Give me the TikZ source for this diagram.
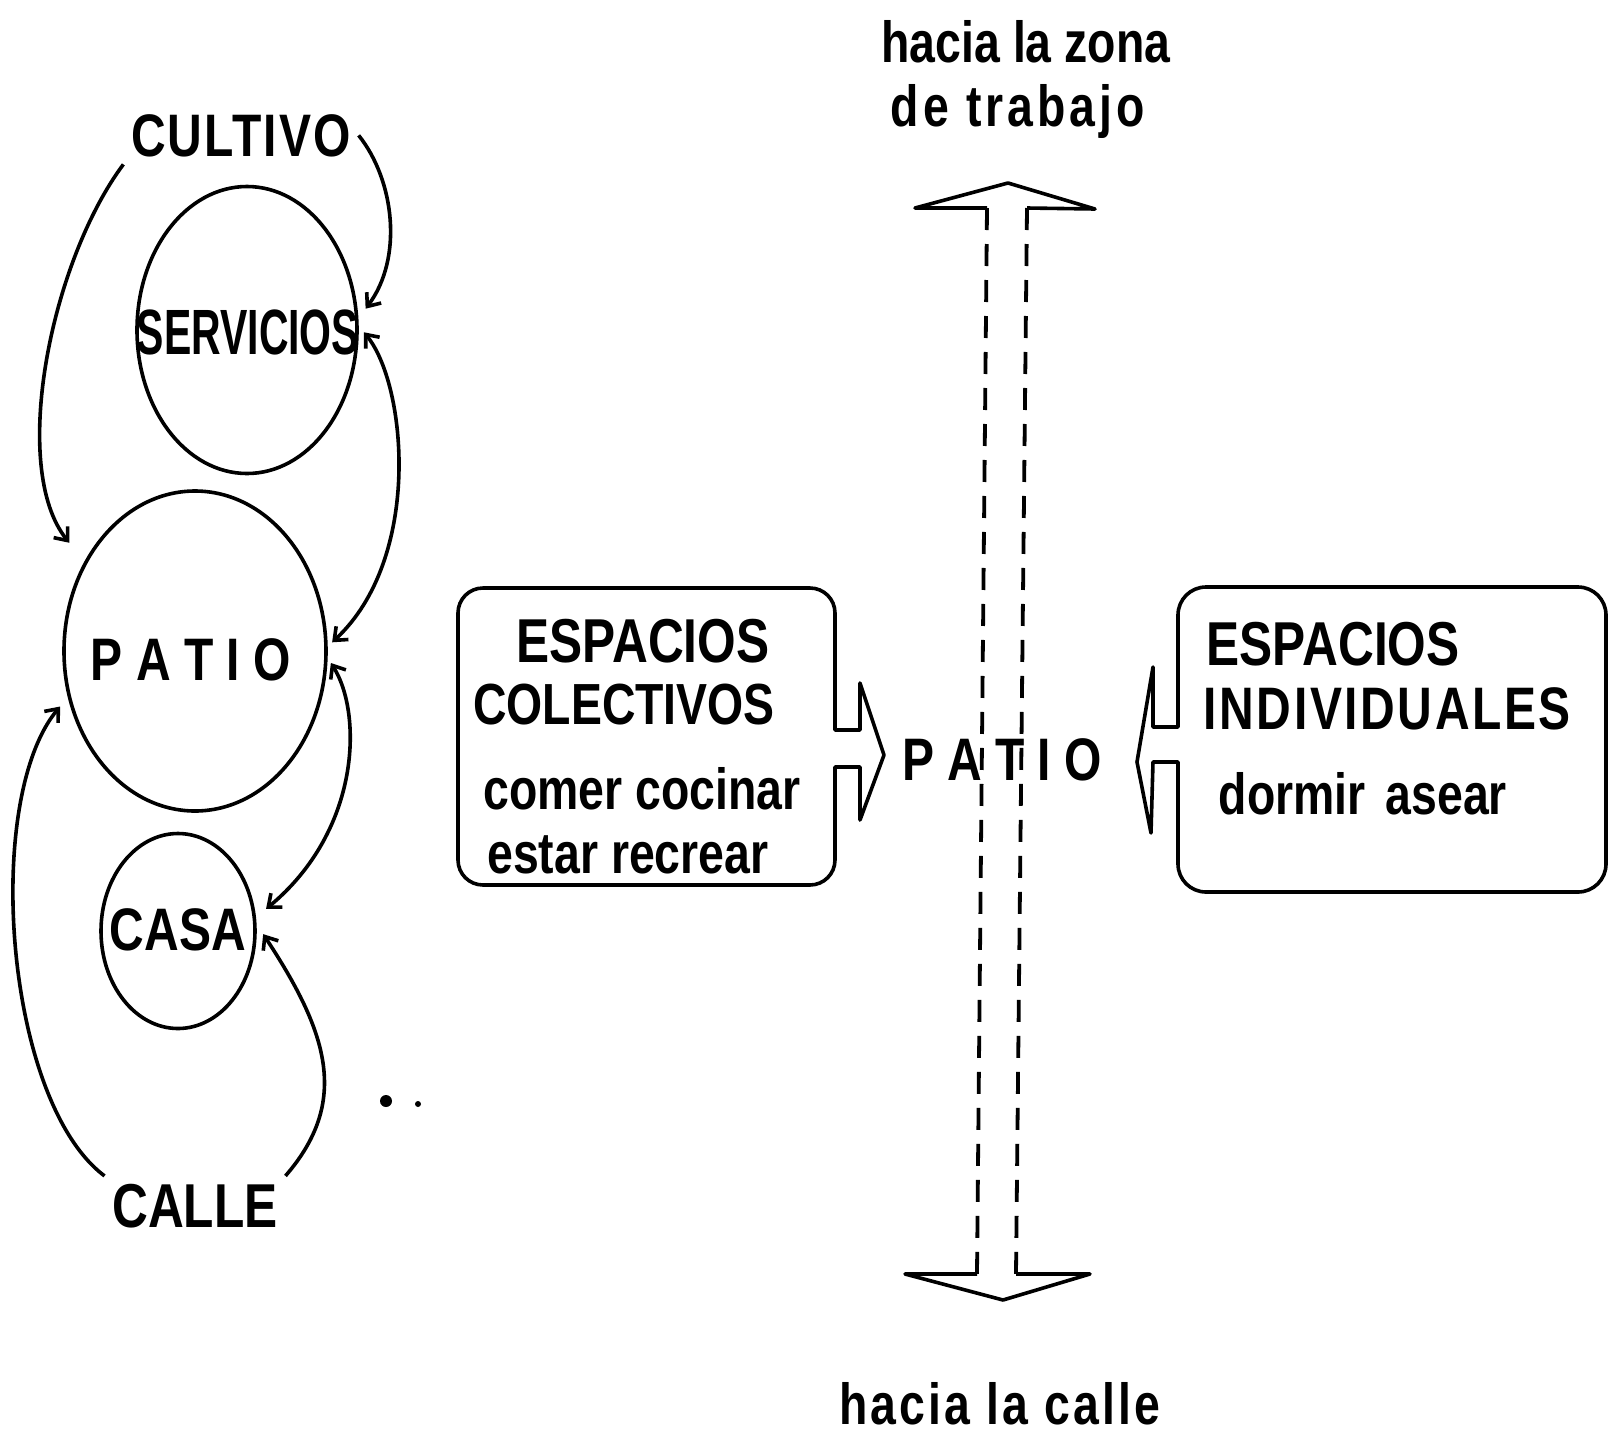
\documentclass[tikz,border=0pt]{standalone}
\usepackage{fontspec}
\setmainfont{Liberation Sans}[FakeStretch=0.8]
\newfontfamily\narrowfont{Liberation Sans}[FakeStretch=0.64]
\usetikzlibrary{shapes.geometric, arrows.meta}

\begin{document}
\begin{tikzpicture}[
        x=1pt, y=-1pt,
        line width=3.6pt,
        >={Straight Barb[length=11pt, width=18pt]},
        capwords/.style={font=\bfseries\fontsize{60}{60}\selectfont, inner sep=6pt, anchor=base},
        words/.style={font=\bfseries\fontsize{58}{58}\selectfont, inner sep=6pt, anchor=base},
        place/.style={ellipse, draw, inner sep=0pt},
        link/.style={->},
        twoway/.style={<->},
        outline/.style={draw, line join=round},
        shaft/.style={line width=3.8pt, dash pattern=on 22pt off 14pt}
    ]
    \useasboundingbox (0,0) rectangle (1610,1433);

    % Nodes
    \node (cultivo) [capwords] at (241,156) {\addfontfeature{LetterSpace=3.5}CULTIVO};
    \node (servicios) [place, minimum width=220pt, minimum height=287pt] at (247,330) {};
    \node (servicios-txt) [capwords, font=\narrowfont\bfseries\fontsize{64}{64}\selectfont] at (248,354) {SERVICIOS};
    \node (patio) [place, minimum width=262pt, minimum height=320pt] at (195,651) {};
    \node (patio-txt) [capwords] at (191,680) {P A T I O};
    \node (casa) [place, minimum width=154pt, minimum height=195pt] at (178,931) {};
    \node (casa-txt) [capwords] at (178,950) {CASA};
    \node (calle) [capwords, font=\bfseries\fontsize{62}{62}\selectfont] at (195,1227) {CALLE};

    \node (zona) [words] at (1026,62) {hacia la zona};
    \node (trabajo) [words] at (1018,126) {\addfontfeature{LetterSpace=7}de trabajo};
    \node (haciacalle) [words] at (1000,1424) {\addfontfeature{LetterSpace=5.5}hacia la calle};
    \node (centro) [capwords] at (1002,780) {P A T I O};

    \node (col1) [capwords, font=\bfseries\fontsize{62}{62}\selectfont] at (643,662) {ESPACIOS};
    \node (col2) [capwords, font=\bfseries\fontsize{58}{58}\selectfont] at (624,724) {COLECTIVOS};
    \node (col3) [words] at (642,809) {comer cocinar};
    \node (col4) [words] at (628,873) {estar recrear};

    \node (ind1) [capwords, anchor=base west, font=\bfseries\fontsize{62}{62}\selectfont] at (1199,665) {ESPACIOS};
    \node (ind2) [capwords, anchor=base west] at (1196,729) {\addfontfeature{LetterSpace=4.3}INDIVIDUALES};
    \node (ind3) [words, anchor=base west] at (1211,814) {dormir\hspace{20pt}asear};

    % Boxes
    \draw[outline] (835,800) [rounded corners=25pt] -- (835,885) -- (458,885) -- (458,588) -- (835,588) -- (835,650)
        [sharp corners] -- (835,730) -- (860,730) -- (860,683) -- (884,755) -- (860,820) -- (860,767) -- (835,767) -- cycle;
    \draw[outline] (1178,800) [rounded corners=28pt] -- (1178,892) -- (1606,892) -- (1606,587) -- (1178,587) -- (1178,650)
        [sharp corners] -- (1178,727) -- (1153,727) -- (1153,667) -- (1137,762) -- (1151,833) -- (1153,762) -- (1178,762) -- cycle;

    % Arrows
    \draw[link, shorten >=24pt] (cultivo.south west) .. controls +(-73,98) and +(-75,-93) .. (patio.141);
    \draw[link, shorten >=12pt] (cultivo.east) .. controls +(36,45) and +(45,-60) .. (servicios.6);
    \draw[twoway, shorten <=8pt, shorten >=6pt] (servicios.2) .. controls +(48,58) and +(95,-88) .. (patio.2);
    \draw[twoway, shorten <=6pt, shorten >=13pt] (patio.-3) .. controls +(35,55) and +(105,-87) .. (casa.10);
    \draw[link, shorten >=12pt] (calle.north west) .. controls +(-100,-75) and +(-85,102) .. (patio.200);
    \draw[link, shorten >=12pt] (calle.north east) .. controls +(65,-75) and +(71,108) .. (casa.5);

    % vertical double arrow
    \draw[outline] (1027,208) -- (1095,209) -- (1008,183) -- (915,208) -- (987,208);
    \draw[outline] (977,1274) -- (905,1274) -- (1003,1300) -- (1090,1274) -- (1016,1274);
    \draw[shaft] (987,208) -- (977,1274);
    \draw[shaft] (1027,208) -- (1016,1274);

    \fill (386,1101) circle (6pt);
    \fill (418,1104) circle (3pt);
\end{tikzpicture}
\end{document}
